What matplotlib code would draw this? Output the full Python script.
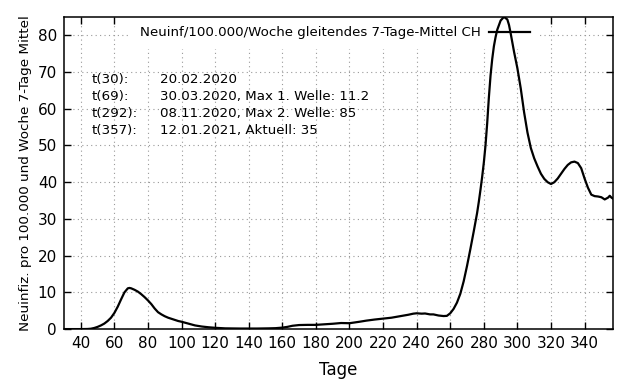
import numpy as np
import matplotlib
matplotlib.use("Agg")
import matplotlib.pyplot as plt

# Tage seit Beginn und 7-Tage-Mittel Neuinfektionen pro 100'000 und Woche (CH)
tage = [30, 40, 44, 46, 48, 50, 52, 54, 56, 58, 60, 62, 64, 66, 68, 69, 70, 72, 74, 76,
        78, 80, 82, 84, 86, 88, 90, 92, 94, 96, 98, 100, 104, 108, 112, 116, 120, 126,
        135, 145, 152, 156, 160, 163, 166, 170, 175, 180, 185, 190, 195, 200, 203, 206,
        210, 215, 220, 225, 230, 235, 238, 240, 243, 245, 248, 250, 253, 256, 258, 260,
        262, 264, 266, 268, 270, 272, 274, 276, 277, 278, 279, 280, 281, 282, 283, 284, 285,
        286, 287, 288, 290, 292, 294, 295, 296, 298, 300, 302, 304, 306, 308, 310, 312, 314, 316,
        318, 320, 322, 324, 326, 328, 330, 332, 334, 336, 338, 340, 342, 344, 346, 348,
        350, 352, 354, 355, 356, 357]
werte = [0.0, 0.0, 0.03, 0.1, 0.3, 0.6, 1.0, 1.5, 2.2, 3.1, 4.4, 6.1, 8.1, 10.0, 11.1, 11.2, 11.1, 10.7, 10.2, 9.5,
         8.7, 7.8, 6.8, 5.6, 4.6, 4.0, 3.5, 3.1, 2.8, 2.5, 2.2, 2.0, 1.5, 1.0, 0.7, 0.5, 0.35, 0.2,
         0.15, 0.15, 0.2, 0.25, 0.4, 0.6, 0.9, 1.1, 1.15, 1.15, 1.3, 1.45, 1.65, 1.6, 1.8, 2.0,
         2.3, 2.6, 2.85, 3.1, 3.5, 3.9, 4.2, 4.3, 4.2, 4.25, 4.0, 4.0, 3.7, 3.55, 3.6, 4.3,
         5.5, 7.2, 9.6, 13.0, 17.2, 21.8, 26.6, 31.6, 34.6, 37.9, 41.4, 45.3, 50.0, 56.0, 63.0, 69.0, 73.5,
         77.0, 79.5, 81.5, 84.0, 85.0, 84.3, 82.8, 80.5, 75.5, 71.0, 65.5, 59.0, 53.5, 49.3, 46.5, 44.3, 42.3, 40.9,
         40.0, 39.5, 40.0, 41.0, 42.3, 43.6, 44.7, 45.4, 45.6, 45.2, 43.8, 41.0, 38.5, 36.6, 36.2, 36.1,
         35.9, 35.3, 35.8, 36.3, 35.8, 35.5]

info_links = ["t(30):", "t(69):", "t(292):", "t(357):"]
info_rechts = ["20.02.2020", "30.03.2020, Max 1. Welle: 11.2",
               "08.11.2020, Max 2. Welle: 85", "12.01.2021, Aktuell: 35"]
info_y = [68.0, 63.4, 58.7, 54.1]

fig = plt.figure(figsize=(6.4, 3.84), dpi=100)
fig.subplots_adjust(left=0.1, right=0.958, bottom=0.143, top=0.956)
ax = fig.add_subplot(111)

ax.plot(tage, werte, color="black", lw=1.6, zorder=3,
        label="Neuinf/100.000/Woche gleitendes 7-Tage-Mittel CH")

ax.set_xlim(30, 357)
ax.set_ylim(0, 85)
ax.set_xticks(np.arange(40, 341, 20))
ax.set_yticks(np.arange(0, 81, 10))
ax.set_axisbelow(True)
ax.grid(True, color="0.6", linestyle=(0, (1, 3)), linewidth=0.8)
ax.tick_params(direction="in", top=True, right=True, length=5, width=1,
               labelsize=11, pad=5)
for s in ax.spines.values():
    s.set_linewidth(1.1)

for yy, a, b in zip(info_y, info_links, info_rechts):
    ax.text(46.7, yy, a, fontsize=9.6, va="center")
    ax.text(87.3, yy, b, fontsize=9.6, va="center")

leg = ax.legend(loc="upper right", bbox_to_anchor=(0.866, 1.0), borderaxespad=0,
                markerfirst=False, fontsize=9.6, frameon=True, fancybox=False,
                framealpha=1, facecolor="white", edgecolor="none",
                handlelength=3.1, handletextpad=0.6, borderpad=0.7)
leg.set_zorder(2)

ax.set_xlabel("Tage", fontsize=12, labelpad=7)
ax.set_ylabel("Neuinfiz. pro 100.000 und Woche 7-Tage Mittel", fontsize=9.7)

fig.savefig("out.png", dpi=100)
